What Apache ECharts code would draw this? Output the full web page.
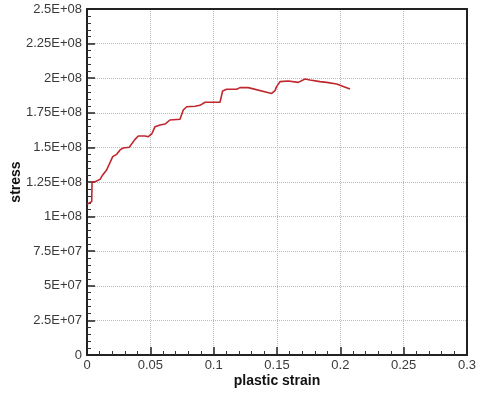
<!DOCTYPE html>
<html>
<head>
<meta charset="utf-8">
<script src="https://cdn.jsdelivr.net/npm/echarts@6/dist/echarts.min.js"></script>
<style>
  html, body { margin: 0; padding: 0; background: #fff; }
  #chart { width: 485px; height: 393px; }
</style>
</head>
<body>
<div id="chart"></div>
<script>
// plastic strain vs stress
const strain = [0.0003, 0.0037, 0.004, 0.0063, 0.0103, 0.0124, 0.0155, 0.0168, 0.0203, 0.0234,
  0.0266, 0.0287, 0.0334, 0.0379, 0.0405, 0.0458, 0.0484, 0.0511, 0.0537, 0.0576,
  0.0616, 0.0655, 0.0734, 0.076, 0.0787, 0.0853, 0.0892, 0.0932, 0.105, 0.1071,
  0.1103, 0.1182, 0.1208, 0.1273, 0.1458, 0.1484, 0.1497, 0.1524, 0.1589, 0.1668,
  0.1721, 0.176, 0.1839, 0.1892, 0.1971, 0.2076]
const stress = [109.1e6, 110.8e6, 125.2e6, 125.2e6, 126.9e6, 130.1e6, 133.7e6, 133.7e6, 143.3e6, 145e6,
  148.6e6, 149.6e6, 150.1e6, 155.8e6, 158.2e6, 158.2e6, 157.7e6, 159.7e6, 165e6, 166.2e6,
  166.9e6, 169.8e6, 170.3e6, 177e6, 179.4e6, 179.7e6, 180.4e6, 182.6e6, 182.6e6, 190.8e6,
  192e6, 192e6, 193.2e6, 193.2e6, 189e6, 191e6, 193.9e6, 197.5e6, 198e6, 197e6,
  199.4e6, 198.7e6, 197.5e6, 197e6, 195.8e6, 192.2e6]

const font = 'Liberation Sans, Arial, sans-serif'

const fmtSci = v => {
  if (v === 0) return '0'
  const e = Math.floor(Math.log10(Math.abs(v)) + 1e-9)
  const m = +(v / Math.pow(10, e)).toFixed(3)
  return `${m}E+${String(e).padStart(2, '0')}`
}

const tick = { show: true, inside: true, length: 8, lineStyle: { color: '#222', width: 1.5 } }
const minor = { show: true, splitNumber: 5, length: 4, lineStyle: { color: '#333', width: 1 } }
const nameStyle = { fontFamily: font, fontSize: 14, fontWeight: 'bold', color: '#111' }
// plain frame line for top / right edges
const frame = {
  axisLine: { show: true, onZero: false, lineStyle: { color: '#222', width: 2 } },
  axisTick: { show: false }, axisLabel: { show: false }, splitLine: { show: false }
}

const chart = echarts.init(document.getElementById('chart'))
chart.setOption({
  animation: false,
  grid: { left: 87, right: 18, top: 9, bottom: 38, outerBoundsMode: 'none', containLabel: false },
  xAxis: [{
    type: 'value', min: 0, max: 0.3, interval: 0.05, position: 'bottom',
    name: 'plastic strain', nameLocation: 'middle', nameGap: 19, nameMoveOverlap: false,
    nameTextStyle: nameStyle,
    axisLine: { show: true, onZero: false, lineStyle: { color: '#222', width: 2 } },
    axisTick: tick, minorTick: minor,
    axisLabel: { fontFamily: font, fontSize: 13, color: '#3a3a3a', margin: 4 },
    splitLine: { lineStyle: { type: 'dotted', color: '#bbb' } }
  }, {
    type: 'value', min: 0, max: 0.3, position: 'top', ...frame
  }],
  yAxis: [{
    type: 'value', min: 0, max: 2.5e8, interval: 2.5e7, position: 'left',
    name: 'stress', nameLocation: 'middle', nameGap: 64, nameMoveOverlap: false,
    nameTextStyle: nameStyle,
    axisLine: { show: true, onZero: false, lineStyle: { color: '#222', width: 2 } },
    axisTick: tick, minorTick: minor,
    axisLabel: { fontFamily: font, fontSize: 13, color: '#3a3a3a', margin: 5, formatter: fmtSci },
    splitLine: { lineStyle: { type: 'dotted', color: '#bbb' } }
  }, {
    type: 'value', min: 0, max: 2.5e8, position: 'right', ...frame
  }],
  series: [{
    type: 'line',
    data: strain.map((x, i) => [x, stress[i]]),
    showSymbol: false,
    lineStyle: { color: '#c0272d', width: 1.6 }
  }]
})
</script>
</body>
</html>
